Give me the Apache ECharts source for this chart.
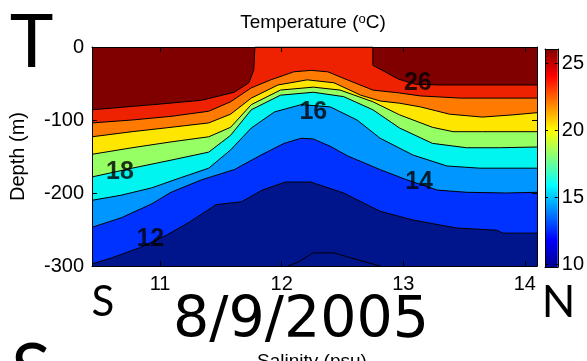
<!DOCTYPE html>
<html>
<head>
<meta charset="utf-8">
<script src="https://cdn.jsdelivr.net/npm/echarts/dist/echarts.min.js"></script>
<style>
html,body{margin:0;padding:0;background:#fff;}
#c{width:587px;height:361px;}
</style>
</head>
<body>
<div id="c"></div>
<script>
// ---- data (latitude, depth m) for each isotherm ----
const iso26 = [[10.44,-86],[11.01,-78],[11.34,-73],[11.61,-62],[11.73,-49],[11.77,-32],[11.78,0],[12.75,0],[12.75,-25],[12.85,-34],[12.96,-44],[13.10,-51],[13.30,-52],[14.10,-52]];
const iso24 = [[10.44,-104],[10.77,-100],[11.09,-95],[11.40,-88],[11.58,-75],[11.75,-56],[11.91,-45],[12.10,-34],[12.24,-32],[12.38,-34],[12.54,-45],[12.75,-59],[12.97,-63],[13.14,-67],[13.47,-70],[14.10,-70]];
const iso22 = [[10.44,-123],[10.77,-116],[11.09,-110],[11.40,-104],[11.58,-92],[11.75,-70],[11.97,-52],[12.21,-45],[12.43,-49],[12.65,-66],[12.81,-74],[12.97,-77],[13.14,-82],[13.38,-92],[13.65,-96],[13.90,-93],[14.10,-90]];
const iso20 = [[10.44,-147],[10.77,-138],[11.09,-130],[11.40,-123],[11.58,-110],[11.75,-79],[11.99,-59],[12.26,-55],[12.48,-59],[12.75,-75],[12.97,-93],[13.24,-110],[13.41,-116],[13.65,-116],[14.10,-116]];
const iso18 = [[10.44,-178],[10.77,-166],[11.09,-155],[11.40,-144],[11.58,-121],[11.75,-86],[11.99,-66],[12.26,-62],[12.51,-68],[12.75,-86],[12.97,-111],[13.24,-132],[13.52,-138],[13.79,-138],[14.10,-137]];
const iso16 = [[10.44,-210],[10.68,-203],[10.93,-193],[11.17,-179],[11.40,-166],[11.58,-141],[11.75,-111],[11.94,-89],[12.16,-79],[12.40,-82],[12.62,-100],[12.81,-125],[13.08,-148],[13.36,-163],[13.63,-166],[14.10,-166]];
const iso14 = [[10.44,-247],[10.68,-234],[10.93,-215],[11.09,-199],[11.34,-182],[11.61,-168],[11.83,-148],[12.02,-132],[12.16,-125],[12.26,-126],[12.40,-136],[12.54,-149],[12.81,-168],[13.03,-182],[13.28,-196],[13.52,-199],[13.85,-200],[14.10,-199]];
const iso12 = [[10.44,-297],[10.60,-289],[10.83,-275],[11.05,-258],[11.24,-240],[11.46,-216],[11.67,-212],[11.84,-196],[12.03,-185],[12.24,-185],[12.51,-200],[12.81,-225],[13.08,-237],[13.44,-248],[13.77,-251],[13.82,-255],[14.10,-255]];
const iso10 = [[12.05,-300],[12.13,-295],[12.26,-282],[12.43,-282],[12.57,-289],[12.81,-300]];

const levelLabels = ['26','16','18','14','12'];
const labelLat    = [13.12, 12.26, 10.67, 13.13, 10.92];
const labelDepth  = [-49, -89, -171, -185, -263];

const xTicks = [11, 12, 13, 14];
const yTicks = [0, -100, -200, -300];
const cbTicks = [10, 15, 20, 25];
const xMin = 10.44, xMax = 14.1;
const yMin = -300, yMax = 0;
const cbMin = 9.8, cbMax = 26.1;

// ---- styles ----
const isoLines = [iso26, iso24, iso22, iso20, iso18, iso16, iso14, iso12, iso10];
const fills = ['#ee2200','#ff7a00','#ffe600','#96ff64','#00f5f0','#0096ff','#0032ff','#00148c','#00148c'];
const F = 'Liberation Sans, Arial, sans-serif';

const chart = echarts.init(document.getElementById('c'), null, {renderer: 'canvas'});

const series = isoLines.map((d, i) => ({
  type: 'line', xAxisIndex: 0, yAxisIndex: 0, data: d,
  symbol: 'none', smooth: false, silent: true,
  lineStyle: {color: '#000', width: 1},
  areaStyle: {color: fills[i], opacity: 1, origin: 'start'},
  z: 2
}));

series.push({
  type: 'scatter', xAxisIndex: 0, yAxisIndex: 0, silent: true,
  data: levelLabels.map((t, i) => ({value: [labelLat[i], labelDepth[i]], name: t})),
  symbol: 'circle', symbolSize: 1, itemStyle: {color: 'rgba(0,0,0,0)'},
  label: {show: true, position: 'inside', formatter: '{b}', fontSize: 25, fontWeight: 'bold', color: '#000', fontFamily: F},
  z: 6
});

series.push({
  type: 'line', xAxisIndex: 2, yAxisIndex: 2, silent: true,
  data: [[0, cbMax], [1, cbMax]], symbol: 'none',
  lineStyle: {width: 0},
  areaStyle: {opacity: 1, origin: 'start',
    color: new echarts.graphic.LinearGradient(0, 0, 0, 1, [
      {offset: 0, color: '#800000'},
      {offset: 0.125, color: '#ff0000'},
      {offset: 0.375, color: '#ffff00'},
      {offset: 0.625, color: '#00ffff'},
      {offset: 0.875, color: '#0000ff'},
      {offset: 1, color: '#00008f'}
    ])}
});

const blk = {color: '#000', width: 1};
function xa(grid, pos, min, max, labels, ticks) {
  return {gridIndex: grid, type: 'value', position: pos, min: min, max: max, z: 10,
    axisLine: {show: true, onZero: false, lineStyle: blk},
    axisTick: ticks ? {show: true, inside: true, length: 5, customValues: ticks, lineStyle: blk} : {show: false},
    axisLabel: labels ? {show: true, customValues: ticks, margin: 8, fontSize: 20, color: '#000', fontFamily: F} : {show: false},
    splitLine: {show: false}};
}
function ya(grid, pos, min, max, labels, ticks, len, margin) {
  return {gridIndex: grid, type: 'value', position: pos, min: min, max: max, z: 10,
    axisLine: {show: true, onZero: false, lineStyle: blk},
    axisTick: {show: true, inside: true, length: len, customValues: ticks, lineStyle: blk},
    axisLabel: labels ? {show: true, customValues: ticks, margin: margin, fontSize: 20, color: '#000', fontFamily: F} : {show: false},
    splitLine: {show: false}};
}

const yMain = ya(0, 'left', yMin, yMax, true, yTicks, 5, 8);
yMain.name = 'Depth (m)';
yMain.nameLocation = 'middle';
yMain.nameGap = 64;
yMain.nameTextStyle = {fontSize: 20, color: '#000', fontFamily: F};

const option = {
  animation: false,
  backgroundColor: '#fff',
  grid: [
    {left: 90, top: 47, width: 447, height: 219, show: true, backgroundColor: '#800000', borderWidth: 0},
    {left: 545, top: 49, width: 15, height: 218, show: false}
  ],
  xAxis: [
    xa(0, 'bottom', xMin, xMax, true, xTicks),
    xa(0, 'top', xMin, xMax, false, xTicks),
    xa(1, 'bottom', 0, 1, false, null),
    xa(1, 'top', 0, 1, false, null)
  ],
  yAxis: [
    yMain,
    ya(0, 'right', yMin, yMax, false, yTicks, 5, 8),
    ya(1, 'left', cbMin, cbMax, false, cbTicks, 3, 4),
    ya(1, 'right', cbMin, cbMax, true, cbTicks, 3, 4)
  ],
  series: series,
  graphic: [
    {type: 'text', silent: true, style: {
      text: '{a|Temperature (}{s|o}{a|C)}', x: 313, y: 22.5, textAlign: 'center', textVerticalAlign: 'middle',
      rich: {a: {fontSize: 19, fontFamily: F, color: '#000'}, s: {fontSize: 13, fontFamily: F, verticalAlign: 'top', color: '#000'}}
    }},
    {type: 'text', silent: true, style: {text: 'T', x: 31.5, y: 43.5, textAlign: 'center', textVerticalAlign: 'middle', font: '74px Lato, sans-serif', fill: '#000'}},
    {type: 'text', silent: true, style: {text: 'S', x: 103, y: 302, textAlign: 'center', textVerticalAlign: 'middle', font: '42px Lato, sans-serif', fill: '#000'}},
    {type: 'text', silent: true, style: {text: 'N', x: 558.5, y: 303, textAlign: 'center', textVerticalAlign: 'middle', font: '44px Lato, sans-serif', fill: '#000'}},
    {type: 'text', silent: true, style: {text: '8/9/2005', x: 301, y: 322.5, textAlign: 'center', textVerticalAlign: 'middle', font: '57px "DejaVu Sans", sans-serif', fill: '#000'}},
    {type: 'text', silent: true, style: {text: 'S', x: 31, y: 372, textAlign: 'center', textVerticalAlign: 'middle', font: '74px Lato, sans-serif', fill: '#000'}},
    {type: 'text', silent: true, style: {text: 'Salinity (psu)', x: 312, y: 362, textAlign: 'center', textVerticalAlign: 'middle', font: '19px "Liberation Sans", Arial, sans-serif', fill: '#000'}}
  ]
};
chart.setOption(option);
</script>
</body>
</html>
